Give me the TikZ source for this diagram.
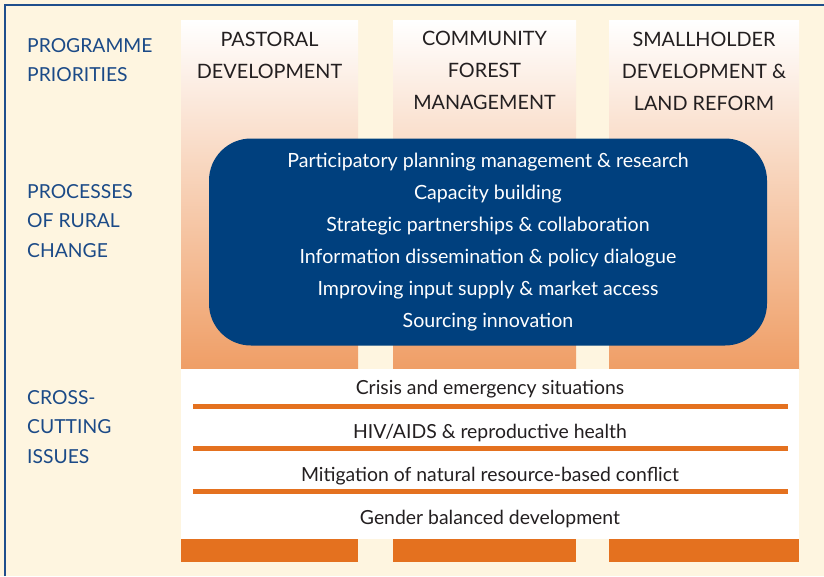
\documentclass[tikz,border=0pt]{standalone}
\usepackage{fontspec}
\setmainfont{Lato}
\usetikzlibrary{chains,scopes}

\definecolor{cream}{HTML}{FEF5E0}
\definecolor{framebl}{HTML}{1F4E8C}
\definecolor{labelbl}{HTML}{1B4A87}
\definecolor{boxbl}{HTML}{00407E}
\definecolor{peach}{HTML}{EF9E66}
\definecolor{deeporange}{HTML}{E4711F}
\definecolor{inkgray}{HTML}{231F20}

\begin{document}
\begin{tikzpicture}
      [
        x=1pt, y=-1pt,
        node distance = 0pt,
        RowLabel/.style={anchor=west, align=left, inner sep=0pt, text=labelbl, font=\fontsize{19.3}{29.5}\selectfont},
        ColHead/.style={align=center, inner sep=0pt, text=inkgray, font=\fontsize{19.8}{32}\selectfont},
        IssueRow/.style={minimum height=42.7pt, inner sep=0pt, text=inkgray, font=\fontsize{19.4}{20}\selectfont, on chain},
        Rule/.style={deeporange, line width=5pt},
      ]

      \useasboundingbox[fill=cream] (0,0) rectangle (824,576);
      \draw[framebl, line width=1.5pt] (5,576) -- (5,5) -- (824,5);

      % the three columns
      \foreach \l/\r in {181/358, 393/576, 609/799} {
        \shade[top color=white, bottom color=peach] (\l,20) rectangle (\r,369);
        \fill[deeporange] (\l,539) rectangle (\r,562);
      }
      \fill[white] (181,369) rectangle (799,539);
      \foreach \y in {406,448,491}
        \draw[Rule] (193,\y) -- (788,\y);

      \node [RowLabel] (priorities) at (27,60) {PROGRAMME\\PRIORITIES};
      \node [RowLabel] (rural) at (27,221) {PROCESSES\\OF RURAL\\CHANGE};
      \node [RowLabel] (crosscut) at (27,427) {CROSS-\\CUTTING\\ISSUES};

      \node [ColHead] (pastoral) at (269.5,55) {PASTORAL\\DEVELOPMENT};
      \node [ColHead] (forest) at (484.5,70) {COMMUNITY\\FOREST\\MANAGEMENT};
      \node [ColHead] (smallholder) at (704,71) {SMALLHOLDER\\DEVELOPMENT \&\\LAND REFORM};

      \node [fill=boxbl, rounded corners=42pt, minimum width=558pt, minimum height=207pt,
             align=center, text=white, font=\fontsize{19.6}{32}\selectfont] (processes) at (488,242)
        {Participatory planning management \& research\\
         Capacity building\\
         Strategic partnerships \& collaboration\\
         Information dissemination \& policy dialogue\\
         Improving input supply \& market access\\
         Sourcing innovation};

      { [start chain = going below]
      \node [IssueRow] (crisis) at (490,389.5) {Crisis and emergency situations};
      \node [IssueRow] (health) {HIV/AIDS \& reproductive health};
      \node [IssueRow] (conflict) {Mitigation of natural resource-based conflict};
      \node [IssueRow] (gender) {Gender balanced development};
      }
    \end{tikzpicture}
\end{document}
